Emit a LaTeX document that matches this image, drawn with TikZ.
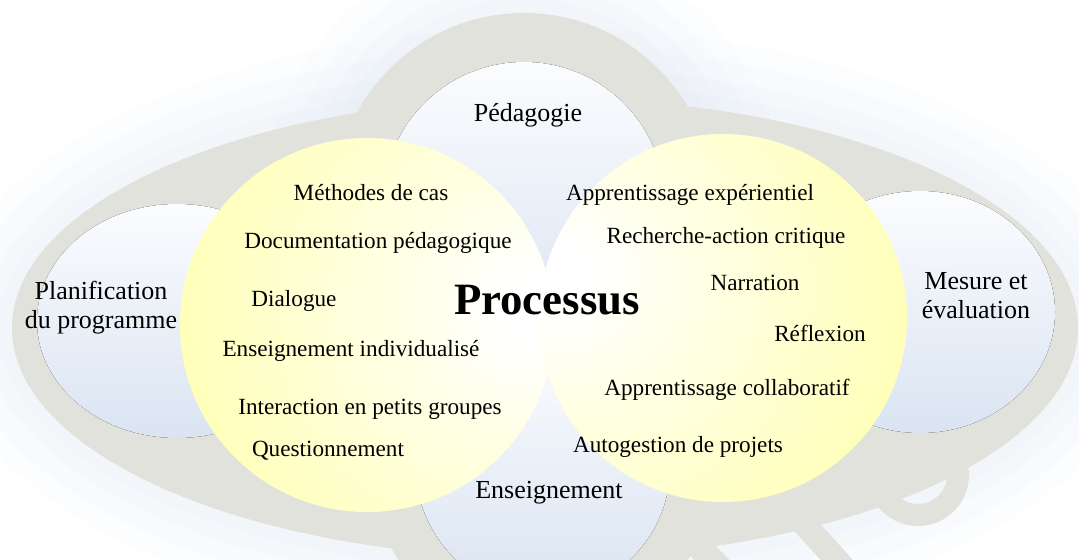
\documentclass[tikz,border=0pt]{standalone}
\usepackage{fontspec}
\setmainfont{Liberation Serif}
\definecolor{band}{RGB}{226,226,221}
\definecolor{halo}{RGB}{226,233,244}
\definecolor{innerTop}{RGB}{251,252,254}
\definecolor{innerBot}{RGB}{218,228,242}
\definecolor{yelEdge}{RGB}{255,255,165}
\definecolor{yelPale}{RGB}{255,255,226}
\pgfdeclareradialshading{yelLeft}{\pgfpoint{24bp}{2bp}}{color(0bp)=(white); color(4bp)=(white); color(18bp)=(yelPale); color(50bp)=(yelEdge); color(90bp)=(yelEdge)}
\pgfdeclareradialshading{yelRight}{\pgfpoint{-24bp}{6bp}}{color(0bp)=(white); color(4bp)=(white); color(18bp)=(yelPale); color(50bp)=(yelEdge); color(90bp)=(yelEdge)}

\begin{document}
\begin{tikzpicture}[x=0.02cm,y=0.02cm,
    lbl/.style={font=\fontsize{13.2}{15}\selectfont, text height=0.7em, text depth=0.2em, inner sep=0pt},
    outerlbl/.style={font=\fontsize{14.8}{16.5}\selectfont, align=center, inner sep=0pt},
    inner/.style={top color=innerTop, bottom color=innerBot}]
  \useasboundingbox (0,0) rectangle (1079,559);
  \clip (0,0) rectangle (1079,559);

  % soft glow round the band
  \foreach \d/\o in {70/0.10,50/0.12,30/0.15,14/0.2} {
    \fill[halo,opacity=\o] (545,231) ellipse ({533+\d} and {230+\d});
    \fill[halo,opacity=\o] (524,356) circle ({190+\d});
  }

  % grey band and its tails
  \draw[band,line width=0.5cm] (632,79) -- (737,-26);
  \draw[band,line width=0.48cm] (755,89) -- (855,-21);
  \draw[band,line width=0.44cm] (918,84) ++(10:40) arc (10:-190:40);
  \fill[band] (543,92) circle (172);
  \fill[band] (545,231) ellipse (533 and 230);
  \fill[band] (524,356) circle (190);

  % the four outer circles
  \fill[inner] (524,356) circle (141);
  \fill[inner] (177,238) ellipse (140 and 117);
  \fill[inner] (920,247) ellipse (135 and 121);
  \fill[inner] (543,92) circle (127);

  % the two yellow circles
  \shade[shading=yelLeft] (367,234) circle (187);
  \shade[shading=yelRight] (723,241) circle (184);

  \node[outerlbl] (ped) at (528,444) {Pédagogie};
  \node[outerlbl] (plan) at (101,251) {Planification\\du programme};
  \node[outerlbl] (mes) at (976,263) {Mesure et\\évaluation};
  \node[outerlbl] (ens) at (549,66) {Enseignement};

  \node[font=\fontsize{25.5}{28}\selectfont\bfseries,inner sep=0pt] (proc) at (547,259) {Processus};

  \node[lbl] (meth) at (371,363) {Méthodes de cas};
  \node[lbl] (doc) at (378,315) {Documentation pédagogique};
  \node[lbl] (dia) at (294,257) {Dialogue};
  \node[lbl] (indiv) at (351,207) {Enseignement individualisé};
  \node[lbl] (inter) at (370,149) {Interaction en petits groupes};
  \node[lbl] (quest) at (328,107) {Questionnement};

  \node[lbl] (exper) at (690,363) {Apprentissage expérientiel};
  \node[lbl] (rech) at (726,320) {Recherche-action critique};
  \node[lbl] (narr) at (755,273) {Narration};
  \node[lbl] (refl) at (820,222) {Réflexion};
  \node[lbl] (collab) at (727,168) {Apprentissage collaboratif};
  \node[lbl] (auto) at (678,111) {Autogestion de projets};
\end{tikzpicture}
\end{document}
